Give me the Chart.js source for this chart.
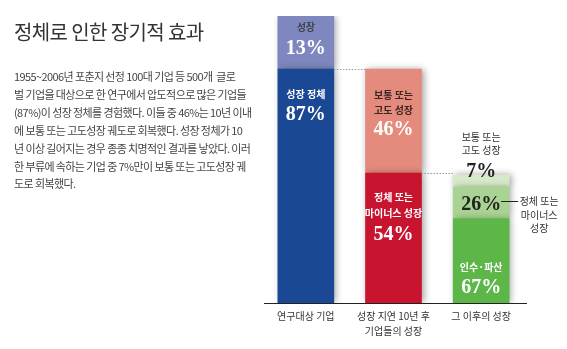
<!DOCTYPE html>
<html><head><meta charset="utf-8">
<script src="https://cdn.jsdelivr.net/npm/chart.js@4/dist/chart.umd.min.js"></script>
<style>
html,body{margin:0;padding:0;background:#fff;}
#wrap{position:relative;width:567px;height:349px;overflow:hidden;}
#c{position:absolute;left:0;top:0;}
#title{position:absolute;left:14px;top:22px;font:400 20px/20px "Noto Sans CJK KR";color:#333;letter-spacing:-0.6px;white-space:nowrap;}
#para{position:absolute;left:14px;top:68px;font:400 11px/17.9px "Noto Sans CJK KR";color:#444;letter-spacing:-0.6px;white-space:nowrap;}
</style></head>
<body><div id="wrap">
<canvas id="c" width="567" height="349"></canvas>
<div id="title">정체로 인한 장기적 효과</div>
<div id="para">1955~2006년 포춘지 선정 100대 기업 등 500개 &nbsp;글로<br>벌 기업을 대상으로 한 연구에서 압도적으로 많은 기업들<br>(87%)이 성장 정체를 경험했다. 이들 중 46%는 10년 이내<br>에 보통 또는 고도성장 궤도로 회복했다. 성장 정체가 10<br>년 이상 길어지는 경우 종종 치명적인 결과를 낳았다. 이러<br>한 부류에 속하는 기업 중 7%만이 보통 또는 고도성장 궤<br>도로 회복했다.</div>
</div>
<script>
// categories (x axis labels)
const categories = [['연구대상 기업'], ['성장 지연 10년 후', '기업들의 성장'], ['그 이후의 성장']];
// segment heights as drawn in the picture (share of the first bar's height)
const lowerHeights  = [81.5, 45.3, 29.3];
const middleHeights = [18.5, 36.2, 11.1];
const upperHeights  = [null, null, 4.2];
// printed percentages
const lowerPct  = ['87%', '54%', '67%'];
const middlePct = ['13%', '46%', '26%'];
const upperPct  = [null, null, '7%'];
// segment names
const lowerNames  = [['성장 정체'], ['정체 또는', '마이너스 성장'], ['인수·파산']];
const middleNames = [['성장'], ['보통 또는', '고도 성장'], ['정체 또는', '마이너스', '성장']];
const upperNames  = [null, null, ['보통 또는', '고도 성장']];

const lowerColors  = ['#1b4894', '#c8142f', '#5cb648'];
const middleColors = ['#7f87bf', '#e48b7d', '#a8d392'];
const upperColors  = ['#d6eacb', '#d6eacb', '#d6eacb'];

const KR = '"Noto Sans CJK KR"';
const SERIF = 'bold 20px "Liberation Serif"';

const shadowPlugin = {
  id: 'shadow',
  beforeDatasetsDraw(chart) {
    const ctx = chart.ctx;
    ctx.save();
    ctx.shadowColor = 'rgba(0,0,0,0.38)';
    ctx.shadowBlur = 7;
    ctx.shadowOffsetX = 2;
    ctx.shadowOffsetY = 0;
  },
  afterDatasetsDraw(chart) {
    chart.ctx.restore();
  }
};

const annoPlugin = {
  id: 'anno',
  afterDatasetsDraw(chart) {
    const ctx = chart.ctx;
    const ys = chart.scales.y, xs = chart.scales.x;
    const ca = chart.chartArea;
    const m0 = chart.getDatasetMeta(0).data;
    const m1 = chart.getDatasetMeta(1).data;
    const m2 = chart.getDatasetMeta(2).data;
    const top = el => Math.min(el.y, el.base);
    const bot = el => Math.max(el.y, el.base);
    const left = el => el.x - el.width / 2;
    const right = el => el.x + el.width / 2;

    ctx.save();
    // baseline
    ctx.strokeStyle = '#222';
    ctx.lineWidth = 1;
    ctx.beginPath();
    ctx.moveTo(ca.left + 2, Math.round(ys.getPixelForValue(0)) + 0.5);
    ctx.lineTo(ca.right + 2, Math.round(ys.getPixelForValue(0)) + 0.5);
    ctx.stroke();

    // dotted connectors
    ctx.strokeStyle = '#999';
    ctx.setLineDash([1.5, 1.5]);
    let y1 = Math.round(ys.getPixelForValue(lowerHeights[0])) + 0.5;
    ctx.beginPath(); ctx.moveTo(right(m0[0]), y1); ctx.lineTo(left(m0[1]), y1); ctx.stroke();
    let y2 = Math.round(ys.getPixelForValue(lowerHeights[1])) + 0.5;
    ctx.beginPath(); ctx.moveTo(right(m0[1]), y2); ctx.lineTo(left(m0[2]), y2); ctx.stroke();
    ctx.setLineDash([]);

    ctx.textAlign = 'center';
    ctx.textBaseline = 'middle';
    const names = (arr, x, y0, step, color, font) => {
      ctx.fillStyle = color; ctx.font = font;
      arr.forEach((t, k) => ctx.fillText(t, x, y0 + k * step));
    };
    const pct = (t, x, y, color) => { ctx.fillStyle = color; ctx.font = SERIF; ctx.fillText(t, x, y); };

    // bar 1
    let e = m1[0];
    names(middleNames[0], e.x, top(e) + 11, 15, '#333', '500 10px ' + KR);
    pct(middlePct[0], e.x, top(e) + 33, '#fff');
    e = m0[0];
    names(lowerNames[0], e.x, top(e) + 25, 15, '#fff', 'bold 10px ' + KR);
    pct(lowerPct[0], e.x, top(e) + 46, '#fff');
    // bar 2
    e = m1[1];
    names(middleNames[1], e.x, top(e) + 26, 15, '#3a2622', 'bold 10px ' + KR);
    pct(middlePct[1], e.x, top(e) + 61, '#fff');
    e = m0[1];
    names(lowerNames[1], e.x, top(e) + 24, 16, '#fff', 'bold 10px ' + KR);
    pct(lowerPct[1], e.x, top(e) + 62, '#fff');
    // bar 3
    e = m0[2];
    names(lowerNames[2], e.x, top(e) + 48, 15, '#fff', 'bold 10px ' + KR);
    pct(lowerPct[2], e.x, top(e) + 69, '#fff');
    e = m1[2];
    const cy = (top(e) + bot(e)) / 2;
    pct(middlePct[2], e.x, cy + 2, '#222');
    // callout
    ctx.strokeStyle = '#222'; ctx.lineWidth = 1;
    ctx.beginPath(); ctx.moveTo(right(e) - 8, Math.round(cy) - 1.5); ctx.lineTo(right(e) + 9, Math.round(cy) - 1.5); ctx.stroke();
    names(middleNames[2], right(e) + 30, cy - 1.5, 13.3, '#333', '400 10px ' + KR);
    e = m2[2];
    pct(upperPct[2], e.x, top(e) - 3, '#222');
    names(upperNames[2], e.x, top(e) - 38, 13, '#333', '400 10px ' + KR);

    // category labels
    categories.forEach((lines, i) => {
      const x = xs.getPixelForValue(i);
      names(lines, x, ca.bottom + 13, 15, '#333', '400 10px ' + KR);
    });
    ctx.restore();
  }
};

new Chart(document.getElementById('c'), {
  type: 'bar',
  data: {
    labels: categories.map(c => c.join(' ')),
    datasets: [
      { data: lowerHeights, backgroundColor: lowerColors, barThickness: 56, borderWidth: 0 },
      { data: middleHeights, backgroundColor: middleColors, barThickness: 56, borderWidth: 0 },
      { data: upperHeights, backgroundColor: upperColors, barThickness: 56, borderWidth: 0 }
    ]
  },
  options: {
    responsive: false,
    animation: false,
    events: [],
    layout: { padding: { left: 262, right: 42, top: 16, bottom: 46 } },
    plugins: { legend: { display: false }, tooltip: { enabled: false }, title: { display: false } },
    scales: {
      x: { stacked: true, display: false },
      y: { stacked: true, display: false, min: 0, max: 100 }
    }
  },
  plugins: [shadowPlugin, annoPlugin]
});
</script>
</body></html>
